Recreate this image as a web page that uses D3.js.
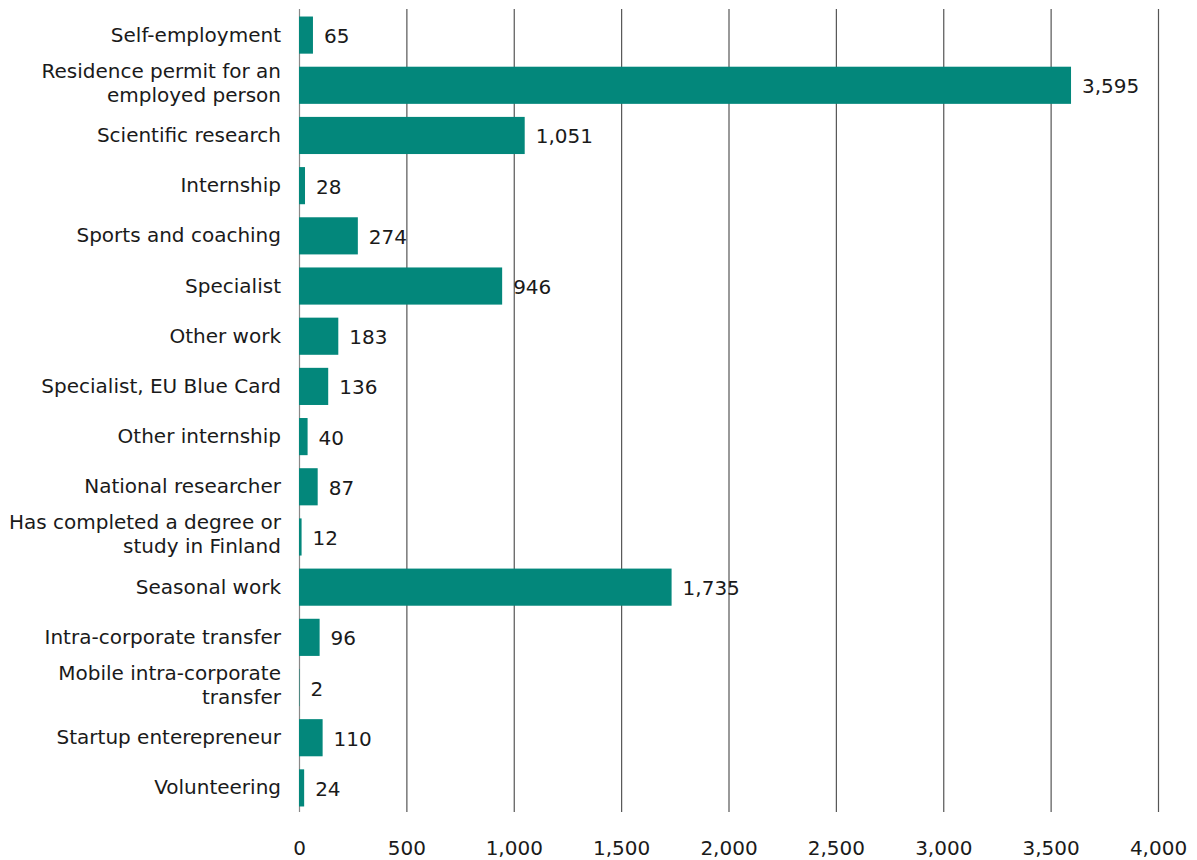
<!DOCTYPE html>
<html>
<head>
<meta charset="utf-8">
<script src="https://cdn.jsdelivr.net/npm/d3@7"></script>
<style>
    body { margin: 0; background: #fff; }
    svg { display: block; }
    text { font-family: "DejaVu Sans", Verdana, sans-serif; fill: #1a1a1a; }
</style>
</head>
<body>
<svg class="wrapper" width="1197" height="860"></svg>
<script>
// permit types, top to bottom
const categories = [
    "Self-employment",
    "Residence permit for an|employed person",
    "Scientific research",
    "Internship",
    "Sports and coaching",
    "Specialist",
    "Other work",
    "Specialist, EU Blue Card",
    "Other internship",
    "National researcher",
    "Has completed a degree or|study in Finland",
    "Seasonal work",
    "Intra-corporate transfer",
    "Mobile intra-corporate|transfer",
    "Startup enterepreneur",
    "Volunteering"
];
const values = [65, 3595, 1051, 28, 274, 946, 183, 136, 40, 87, 12, 1735, 96, 2, 110, 24];
const xTicks = [0, 500, 1000, 1500, 2000, 2500, 3000, 3500, 4000];

const pLeft = 299, pRight = 1158, pTop = 9, pBottom = 812;
const barColor = "#03877b";
const fontSize = 20;

const data = categories.map((c, i) => ({ name: c, value: values[i] }));

const svg = d3.select(".wrapper");

let xScale = d3.scaleLinear()
    .domain([0, 4000])
    .range([pLeft, pRight]);

let yScale = d3.scaleBand()
    .domain(data.map(d => d.name))
    .range([pTop + 1, pBottom + 1])
    .paddingInner(.26)
    .paddingOuter(.13);

// gridlines + tick labels
let xAxis = d3.axisBottom(xScale)
    .tickValues(xTicks)
    .tickFormat(d3.format(","))
    .tickSize(-(pBottom - pTop))
    .tickPadding(0);

let gx = svg.append("g")
    .attr("transform", `translate(0, ${pBottom})`)
    .call(xAxis);
gx.select(".domain").remove();
gx.selectAll(".tick line")
    .attr("stroke", "#555")
    .attr("stroke-width", 1.2);
gx.selectAll(".tick line").filter(d => d == 0).attr("stroke", "#888");
gx.selectAll(".tick text")
    .attr("y", 43)
    .attr("dy", 0)
    .attr("font-size", fontSize)
    .attr("fill", "#1a1a1a");

// bars
svg.append("g")
    .selectAll("rect")
    .data(data)
    .enter()
    .append("rect")
    .attr("fill", barColor)
    .attr("x", xScale(0))
    .attr("y", d => yScale(d.name))
    .attr("width", d => xScale(d.value) - xScale(0))
    .attr("height", yScale.bandwidth());

// value labels
svg.append("g")
    .selectAll("text")
    .data(data)
    .enter()
    .append("text")
    .attr("x", d => xScale(d.value) + 11)
    .attr("y", d => yScale(d.name) + yScale.bandwidth() / 2 + 8)
    .attr("font-size", fontSize)
    .text(d => d3.format(",")(d.value));

// category labels (| splits into two lines)
let gLabels = svg.append("g");
data.forEach(d => {
    let lines = d.name.split("|");
    let cy = yScale(d.name) + yScale.bandwidth() / 2;
    let t = gLabels.append("text")
        .attr("text-anchor", "end")
        .attr("font-size", fontSize);
    lines.forEach((l, i) => {
        let off = lines.length == 1 ? 6.5 : 4.5 + (i - 0.5) * 24;
        t.append("tspan")
            .attr("x", pLeft - 18)
            .attr("y", cy + off)
            .text(l);
    });
});
</script>
</body>
</html>
